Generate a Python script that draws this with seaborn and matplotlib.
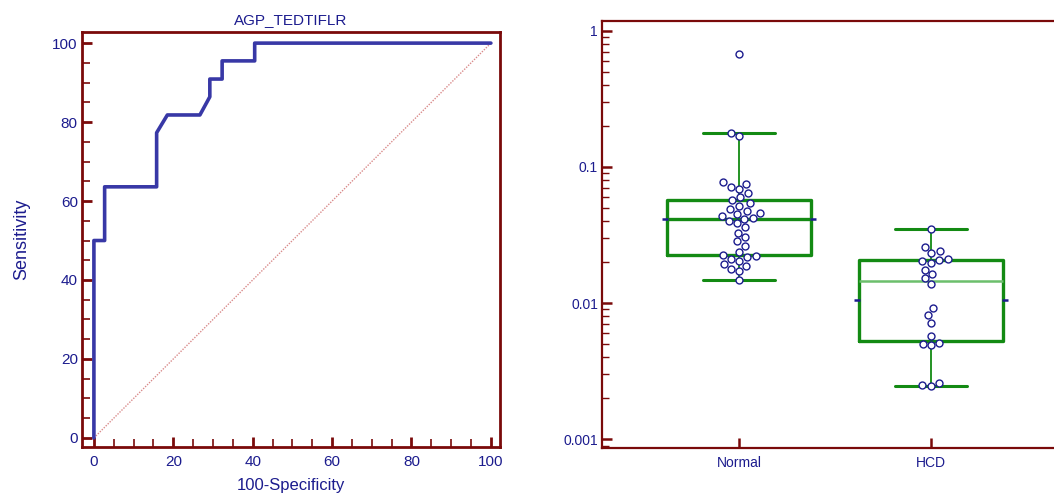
import matplotlib
matplotlib.use('Agg')
import matplotlib.pyplot as plt
import matplotlib.ticker as mticker
import seaborn as sns
import pandas as pd
import numpy as np

# ROC curve (100-specificity, sensitivity)
roc_fpr = [0, 0, 2.7, 2.7, 15.8, 15.8, 18.5, 26.7, 29.2, 29.2, 32.3, 32.3, 40.5, 40.5, 100]
roc_tpr = [0, 50, 50, 63.6, 63.6, 77.3, 81.8, 81.8, 86.4, 90.9, 90.9, 95.5, 95.5, 100, 100]
roc_title = 'AGP_TEDTIFLR'

# box and dot plot values
groups = ['Normal', 'HCD']
normal_vals = [0.0147, 0.0172, 0.0178, 0.0186, 0.0195, 0.0205, 0.0212, 0.0218, 0.0222,
               0.0227, 0.0236, 0.0262, 0.0285, 0.0305, 0.0330, 0.0360, 0.0385, 0.0402,
               0.0418, 0.0425, 0.0436, 0.0448, 0.0462, 0.0478, 0.0495, 0.0520, 0.0545,
               0.0569, 0.0600, 0.0640, 0.0690, 0.0715, 0.0745, 0.0775, 0.170, 0.178, 0.68]
hcd_vals = [0.00245, 0.00250, 0.00258, 0.0049, 0.00505, 0.0051, 0.0057, 0.0072, 0.0082,
            0.0092, 0.0138, 0.0152, 0.0163, 0.0176, 0.0198, 0.0203, 0.0208, 0.0212,
            0.0232, 0.0240, 0.0258, 0.0348]
group_means = [0.0418, 0.0106]
ytick_vals = [0.001, 0.01, 0.1, 1]
ytick_labels = ['0.001', '0.01', '0.1', '1']

MAROON = '#7a0a0a'
NAVY = '#1c1c8e'
GREEN = '#138a13'


def main():
	sns.set_theme(style='white')
	plt.rcParams['font.family'] = ['Liberation Sans', 'DejaVu Sans']

	fig = plt.figure(figsize=(10.54, 5.01), dpi=100)
	ax1 = fig.add_axes([0.0778, 0.1078, 0.3966, 0.8282])
	ax2 = fig.add_axes([0.5712, 0.1058, 0.4421, 0.8522])

	# ---- ROC curve ----
	roc = pd.DataFrame({'fpr': roc_fpr, 'tpr': roc_tpr})
	sns.lineplot(x=[0, 100], y=[0, 100], ax=ax1, color='#d98a8a', linewidth=1,
				 linestyle=(0, (1, 1)))
	sns.lineplot(data=roc, x='fpr', y='tpr', ax=ax1, sort=False, estimator=None,
				 color='#3838a6', linewidth=2.6)
	ax1.set_xlim(-3, 102.3)
	ax1.set_ylim(-2.3, 102.8)
	ax1.xaxis.set_major_locator(mticker.MultipleLocator(20))
	ax1.yaxis.set_major_locator(mticker.MultipleLocator(20))
	ax1.xaxis.set_minor_locator(mticker.MultipleLocator(5))
	ax1.yaxis.set_minor_locator(mticker.MultipleLocator(5))
	ax1.tick_params(which='both', direction='in', colors=MAROON, labelcolor=NAVY,
					top=False, right=False, bottom=True, left=True)
	ax1.tick_params(which='major', length=7, width=2, labelsize=11)
	ax1.tick_params(which='minor', length=6, width=1.2)
	ax1.tick_params(axis='x', which='major', pad=6)
	ax1.tick_params(axis='y', which='major', pad=3)
	for sp in ax1.spines.values():
		sp.set_color(MAROON)
		sp.set_linewidth(2)
	ax1.set_title(roc_title, color=NAVY, fontsize=11, pad=6)
	ax1.set_xlabel('100-Specificity', color=NAVY, fontsize=12, labelpad=6)
	ax1.set_ylabel('Sensitivity', color=NAVY, fontsize=13, labelpad=16)

	# ---- box plot with dots ----
	df = pd.DataFrame({
		'group': ['Normal'] * len(normal_vals) + ['HCD'] * len(hcd_vals),
		'value': normal_vals + hcd_vals,
	})
	median_styles = {'Normal': (GREEN, 2.4), 'HCD': ('#6cbf6c', 1.8)}
	for g in groups:
		sub = df[df['group'] == g]
		mcol, mlw = median_styles[g]
		sns.boxplot(data=sub, x='group', y='value', order=groups, ax=ax2,
					log_scale=True, fill=False, color=GREEN, width=0.75,
					linewidth=2.4, showfliers=False,
					whiskerprops={'linewidth': 1.3},
					capprops={'linewidth': 2.2},
					medianprops={'color': mcol, 'linewidth': mlw})
	sns.swarmplot(data=df, x='group', y='value', order=groups, ax=ax2,
				  log_scale=True, size=5, color='white', edgecolor=NAVY,
				  linewidth=1, zorder=4)

	# mean markers at the box sides
	pos = np.arange(len(groups))
	ax2.hlines(group_means, pos - 0.40, pos - 0.37, color=NAVY, linewidth=1.8, zorder=5)
	ax2.hlines(group_means, pos + 0.37, pos + 0.40, color=NAVY, linewidth=1.8, zorder=5)

	ax2.set_yscale('log')
	ax2.set_ylim(0.000863, 1.18)
	ax2.set_xlim(-0.713, 1.713)
	ax2.yaxis.set_major_locator(mticker.FixedLocator(ytick_vals))
	ax2.yaxis.set_major_formatter(mticker.FixedFormatter(ytick_labels))
	ax2.yaxis.set_minor_locator(mticker.LogLocator(base=10, subs=np.arange(2, 10)))
	ax2.yaxis.set_minor_formatter(mticker.NullFormatter())
	ax2.set_xticks(pos)
	ax2.set_xticklabels(groups)
	ax2.tick_params(which='both', direction='in', colors=MAROON, labelcolor=NAVY,
					top=False, right=False, bottom=True, left=True)
	ax2.tick_params(which='major', length=7, width=1.8, labelsize=10)
	ax2.tick_params(which='minor', length=5, width=1)
	ax2.tick_params(axis='x', pad=6)
	ax2.tick_params(axis='y', pad=3)
	ax2.set_xlabel('')
	ax2.set_ylabel('')
	for sp in ax2.spines.values():
		sp.set_color(MAROON)
		sp.set_linewidth(1.6)

	fig.savefig('out.png', dpi=100)


if __name__ == '__main__':
	main()
